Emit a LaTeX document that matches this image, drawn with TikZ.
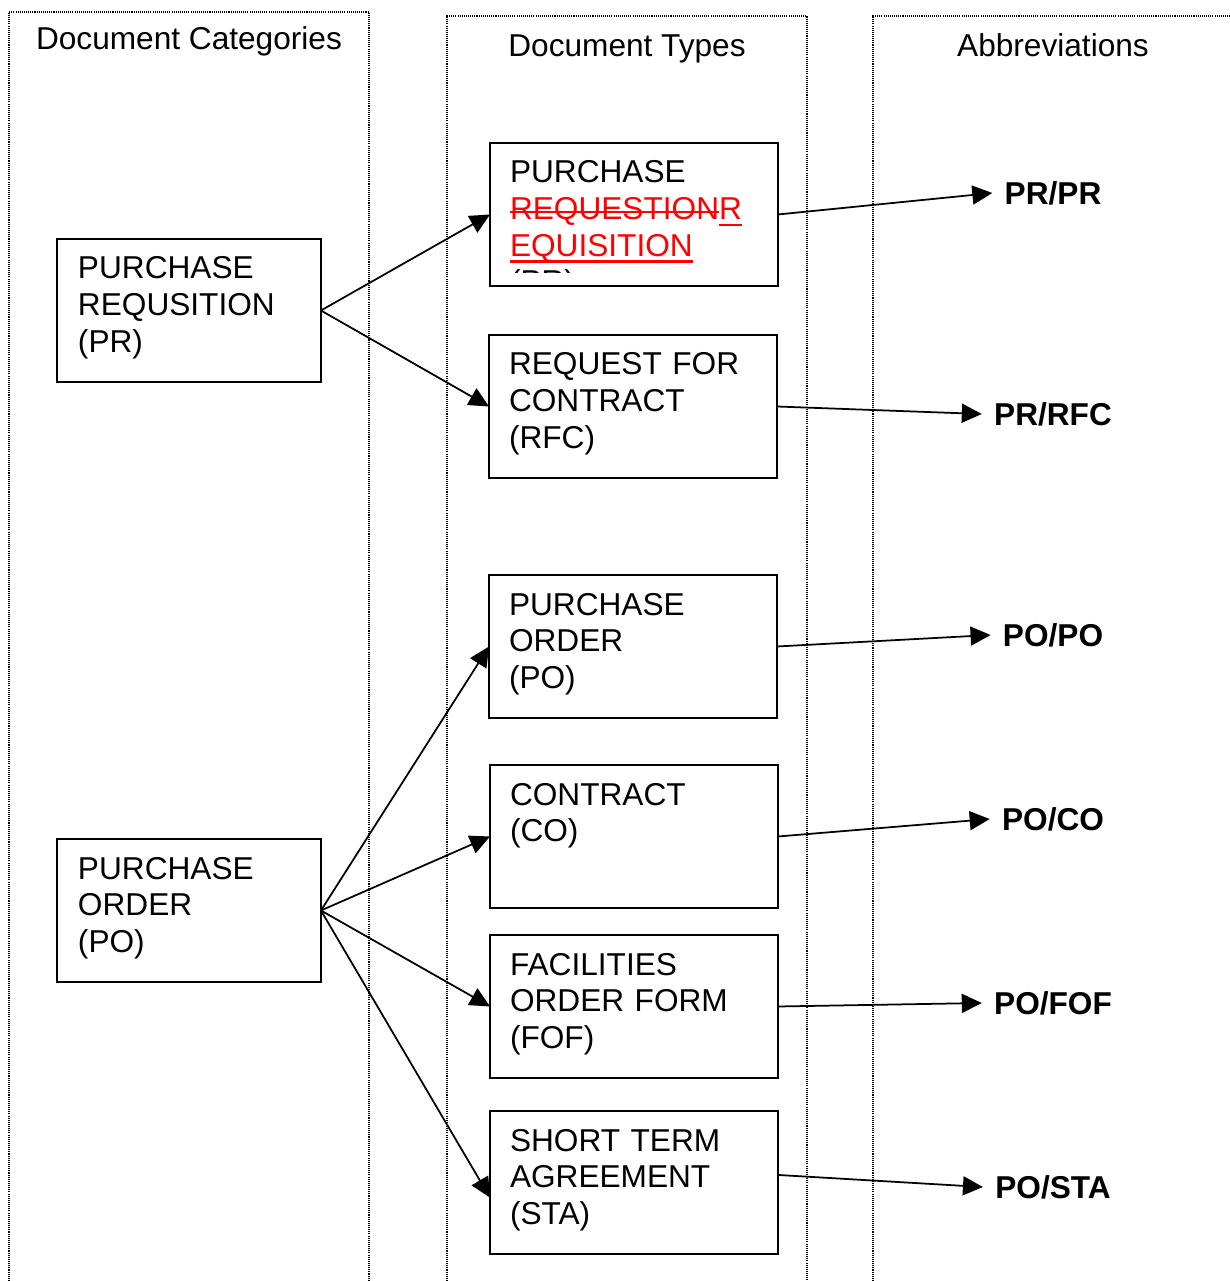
\documentclass[tikz,border=0pt]{standalone}
\usepackage{fontspec}
\setmainfont{Liberation Sans}
\usetikzlibrary{arrows.meta}

% struck-through and underlined words, drawn as rules
\newsavebox{\markbox}
\newcommand{\strk}[1]{\sbox\markbox{#1}\rlap{\vrule height 4.85pt depth -3.75pt width \wd\markbox}\usebox\markbox}
\newcommand{\undl}[1]{\sbox\markbox{#1}\rlap{\vrule height -2.3pt depth 3.8pt width \wd\markbox}\usebox\markbox}

\tikzset{
	column/.style={line width=0.8pt, color=black, dash pattern=on 0.6pt off 0.6pt},
	heading/.style={anchor=base, font=\fontsize{18}{20.8}\selectfont, inner sep=0},
	catbox/.style={draw, line width=1.2pt, outer sep=0pt, anchor=north west, align=left,
		font=\fontsize{18}{20.8}\selectfont, inner xsep=0.42cm, inner ysep=0,
		text width=4.44cm, text height=0.8cm, text depth=2.06cm},
	typebox/.style={catbox, inner xsep=0.4cm, text width=4.96cm},
	abbr/.style={font=\fontsize{18}{20.8}\selectfont\bfseries, inner xsep=0.24cm,
		inner ysep=0, text height=12.9pt, text depth=0pt},
	link/.style={line width=1pt, -{Triangle[length=0.4cm, width=0.38cm]}}
}

\begin{document}
\begin{tikzpicture}[x=0.02cm, y=-0.02cm]
			%%%%% START %%%%%
			
			\clip (0, 0) rectangle (1230, 1281);
			\fill[white] (0, 0) rectangle (1230, 1281);
			
			\draw[column] (9, 1300) -- (9, 12) -- (369, 12) -- (369, 1300);
			\draw[column] (447, 1300) -- (447, 16) -- (807, 16) -- (807, 1300);
			\draw[column] (873, 1300) -- (873, 16) -- (1233, 16) -- (1233, 1300);
			
			\node[heading] (hcat) at (189, 50) {Document Categories};
			\node[heading] (htype) at (627, 56) {Document Types};
			\node[heading] (habbr) at (1053, 56) {Abbreviations};
			
			\node[catbox] (prcat) at (57, 239) {PURCHASE\\REQUSITION\\(PR)};
			\node[catbox] (pocat) at (57, 839) {PURCHASE\\ORDER\\(PO)};
			
			\node[typebox] (reqpr) at (490, 143) {};
			\begin{scope}
				\clip (reqpr.north west) rectangle ([yshift=0.26cm]reqpr.south east);
				\node[typebox, draw=none] (reqprtext) at (reqpr.north west)
					{PURCHASE\\\textcolor{red}{\strk{REQUESTION}\undl{R}}\\\textcolor{red}{\undl{EQUISITION}}\\(PR)};
			\end{scope}
			\node[typebox] (rfc) at (489, 335) {REQUEST FOR\\CONTRACT\\(RFC)};
			\node[typebox] (po) at (489, 575) {PURCHASE\\ORDER\\(PO)};
			\node[typebox] (co) at (490, 765) {CONTRACT\\(CO)};
			\node[typebox] (fof) at (490, 935) {FACILITIES\\ORDER FORM\\(FOF)};
			\node[typebox] (sta) at (490, 1111) {SHORT TERM\\AGREEMENT\\(STA)};
			
			\node[abbr] (prpr) at (1053, 193) {PR/PR};
			\node[abbr] (prrfc) at (1053, 414) {PR/RFC};
			\node[abbr] (popo) at (1053, 635) {PO/PO};
			\node[abbr] (poco) at (1053, 819) {PO/CO};
			\node[abbr] (pofof) at (1053, 1003) {PO/FOF};
			\node[abbr] (posta) at (1053, 1187) {PO/STA};
			
			\draw[link] (prcat.east) -- (reqpr.west);
			\draw[link] (prcat.east) -- (rfc.west);
			\draw[link] (pocat.east) -- (po.west);
			\draw[link] (pocat.east) -- (co.west);
			\draw[link] (pocat.east) -- (fof.west);
			\draw[link] (pocat.east) -- (sta.186);
			
			\draw[link] (reqpr.east) -- (prpr.west);
			\draw[link] (rfc.east) -- (prrfc.west);
			\draw[link] (po.east) -- (popo.west);
			\draw[link] (co.east) -- (poco.west);
			\draw[link] (fof.east) -- (pofof.west);
			\draw[link] (sta.3) -- (posta.west);
			
			%%%%% END %%%%%
\end{tikzpicture}
\end{document}
